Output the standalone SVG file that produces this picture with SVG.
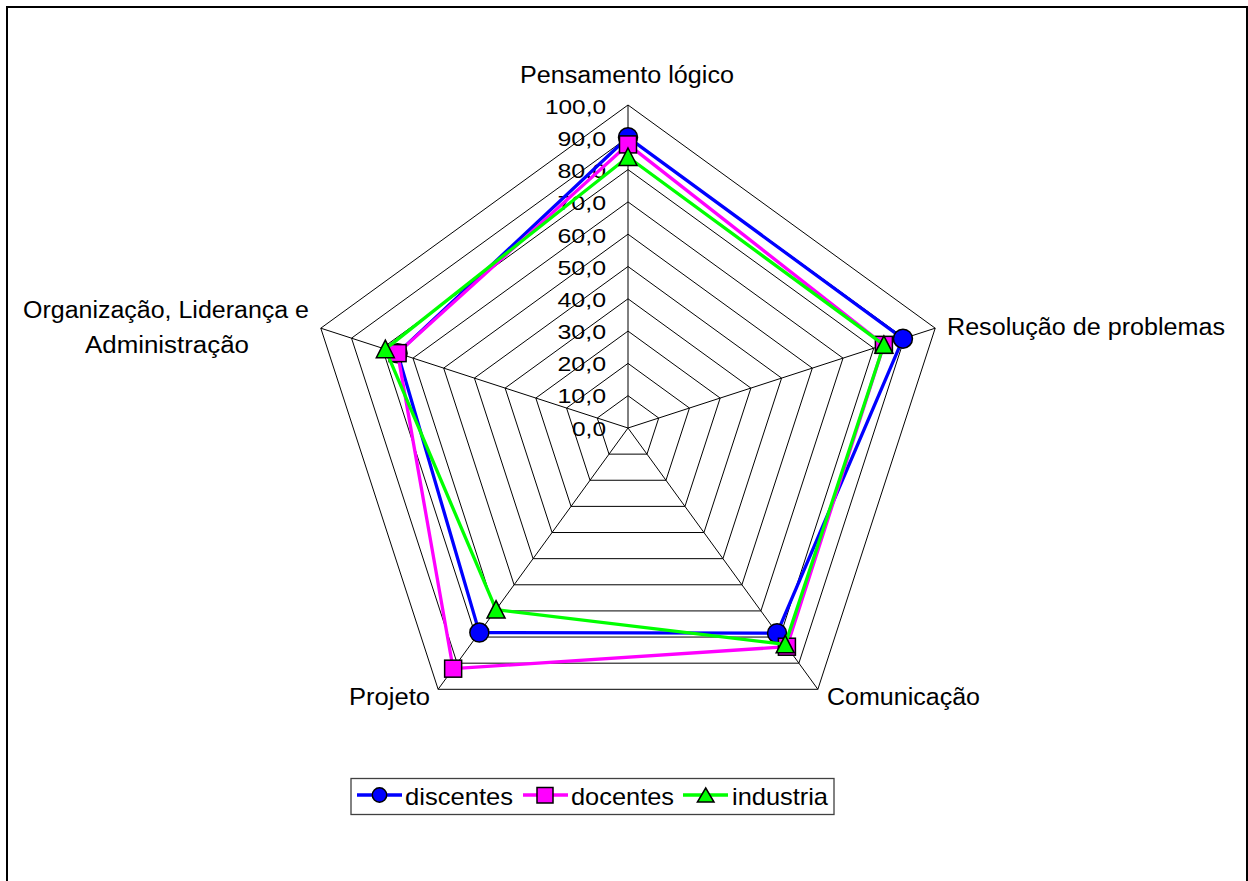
<svg xmlns="http://www.w3.org/2000/svg" width="1248" height="881" viewBox="0 0 1248 881">
  <style>
    text { font-family: "Liberation Sans", Arial, sans-serif; fill: #000; }
    .tick { font-size: 21px; text-anchor: end; }
    .cat { font-size: 23.5px; }
    .leg { font-size: 24px; }
    .grid { fill: none; stroke: #000; stroke-width: 1; }
    .spoke { stroke: #000; stroke-width: 1; }
    .s1 { fill: none; stroke: #0000FF; stroke-width: 3.3; stroke-linejoin: round; }
    .s2 { fill: none; stroke: #FF00FF; stroke-width: 3.3; stroke-linejoin: round; }
    .s3 { fill: none; stroke: #00FF00; stroke-width: 3.3; stroke-linejoin: round; }
    .m1 { fill: #0000FF; stroke: #000; stroke-width: 1.5; }
    .m2 { fill: #FF00FF; stroke: #000; stroke-width: 1.5; }
    .m3 { fill: #00FF00; stroke: #000; stroke-width: 1.5; }
  </style>
  <defs>
    <circle id="mk-circle" r="9.5"/>
    <rect id="mk-square" x="-8.5" y="-8.5" width="17" height="17"/>
    <polygon id="mk-tri" points="0,-9 9,8.5 -9,8.5"/>
  </defs>

  <rect x="0" y="0" width="1248" height="881" fill="#fff"/>
  <!-- chart frame (open at the bottom edge of the page) -->
  <rect x="7" y="7" width="1240" height="900" fill="none" stroke="#000" stroke-width="2"/>

  <!-- radar grid: rings at 10..100, centre (628,428), 3.23 px per unit -->
  <g id="grid">
    <polygon class="grid" points="628,395.7 658.72,418.02 646.99,454.13 609.01,454.13 597.28,418.02"/>
    <polygon class="grid" points="628,363.4 689.44,408.04 665.97,480.26 590.03,480.26 566.56,408.04"/>
    <polygon class="grid" points="628,331.1 720.16,398.06 684.96,506.39 571.04,506.39 535.84,398.06"/>
    <polygon class="grid" points="628,298.8 750.88,388.07 703.94,532.53 552.06,532.53 505.12,388.07"/>
    <polygon class="grid" points="628,266.5 781.6,378.09 722.93,558.66 533.07,558.66 474.4,378.09"/>
    <polygon class="grid" points="628,234.2 812.32,368.11 741.91,584.79 514.09,584.79 443.68,368.11"/>
    <polygon class="grid" points="628,201.9 843.03,358.13 760.9,610.92 495.1,610.92 412.97,358.13"/>
    <polygon class="grid" points="628,169.6 873.75,348.15 779.89,637.05 476.11,637.05 382.25,348.15"/>
    <polygon class="grid" points="628,137.3 904.47,338.17 798.87,663.18 457.13,663.18 351.53,338.17"/>
    <polygon class="grid" points="628,105 935.19,328.19 817.86,689.31 438.14,689.31 320.81,328.19"/>
    <line class="spoke" x1="628" y1="428" x2="628" y2="105"/>
    <line class="spoke" x1="628" y1="428" x2="935.19" y2="328.19"/>
    <line class="spoke" x1="628" y1="428" x2="817.86" y2="689.31"/>
    <line class="spoke" x1="628" y1="428" x2="438.14" y2="689.31"/>
    <line class="spoke" x1="628" y1="428" x2="320.81" y2="328.19"/>
  </g>

  <!-- value axis labels -->
  <g id="axis-labels">
    <text class="tick" x="606" y="435.5" textLength="34" lengthAdjust="spacingAndGlyphs">0,0</text>
    <text class="tick" x="606" y="403.3" textLength="48.5" lengthAdjust="spacingAndGlyphs">10,0</text>
    <text class="tick" x="606" y="371.2" textLength="48.5" lengthAdjust="spacingAndGlyphs">20,0</text>
    <text class="tick" x="606" y="339" textLength="48.5" lengthAdjust="spacingAndGlyphs">30,0</text>
    <text class="tick" x="606" y="306.9" textLength="48.5" lengthAdjust="spacingAndGlyphs">40,0</text>
    <text class="tick" x="606" y="274.7" textLength="48.5" lengthAdjust="spacingAndGlyphs">50,0</text>
    <text class="tick" x="606" y="242.6" textLength="48.5" lengthAdjust="spacingAndGlyphs">60,0</text>
    <text class="tick" x="606" y="210.4" textLength="48.5" lengthAdjust="spacingAndGlyphs">70,0</text>
    <text class="tick" x="606" y="178.3" textLength="48.5" lengthAdjust="spacingAndGlyphs">80,0</text>
    <text class="tick" x="606" y="146.1" textLength="48.5" lengthAdjust="spacingAndGlyphs">90,0</text>
    <text class="tick" x="606" y="114" textLength="61" lengthAdjust="spacingAndGlyphs">100,0</text>
  </g>

  <!-- category labels -->
  <g id="cat-pensamento"><text class="cat" x="627" y="83" text-anchor="middle" textLength="214" lengthAdjust="spacingAndGlyphs">Pensamento lógico</text></g>
  <g id="cat-resolucao"><text class="cat" x="947" y="335" textLength="278" lengthAdjust="spacingAndGlyphs">Resolução de problemas</text></g>
  <g id="cat-comunicacao"><text class="cat" x="827" y="705" textLength="153" lengthAdjust="spacingAndGlyphs">Comunicação</text></g>
  <g id="cat-projeto"><text class="cat" x="349" y="705" textLength="81" lengthAdjust="spacingAndGlyphs">Projeto</text></g>
  <g id="cat-organizacao">
    <text class="cat" x="23" y="318" textLength="286" lengthAdjust="spacingAndGlyphs">Organização, Liderança e</text>
    <text class="cat" x="85" y="353" textLength="164" lengthAdjust="spacingAndGlyphs">Administração</text>
  </g>

  <!-- data series -->
  <g id="series-discentes">
    <polygon class="s1" points="628,137.3 902.94,338.67 777.04,633.14 479.34,632.61 397.61,353.14"/>
    <use href="#mk-circle" class="m1" x="628" y="137.3"/>
    <use href="#mk-circle" class="m1" x="902.94" y="338.67"/>
    <use href="#mk-circle" class="m1" x="777.04" y="633.14"/>
    <use href="#mk-circle" class="m1" x="479.34" y="632.61"/>
    <use href="#mk-circle" class="m1" x="397.61" y="353.14"/>
  </g>
  <g id="series-docentes">
    <polygon class="s2" points="628,144.41 883.89,344.85 786.91,646.72 453.14,668.67 397.61,353.14"/>
    <use href="#mk-square" class="m2" x="628" y="144.41"/>
    <use href="#mk-square" class="m2" x="883.89" y="344.85"/>
    <use href="#mk-square" class="m2" x="786.91" y="646.72"/>
    <use href="#mk-square" class="m2" x="453.14" y="668.67"/>
    <use href="#mk-square" class="m2" x="397.61" y="353.14"/>
  </g>
  <g id="series-industria">
    <polygon class="s3" points="628,157 883.89,344.85 785.2,644.36 496.05,609.62 385.32,349.15"/>
    <use href="#mk-tri" class="m3" x="628" y="157"/>
    <use href="#mk-tri" class="m3" x="883.89" y="344.85"/>
    <use href="#mk-tri" class="m3" x="785.2" y="644.36"/>
    <use href="#mk-tri" class="m3" x="496.05" y="609.62"/>
    <use href="#mk-tri" class="m3" x="385.32" y="349.15"/>
  </g>

  <!-- legend -->
  <g id="legend">
    <rect x="351" y="778.5" width="483" height="36" fill="#fff" stroke="#404040" stroke-width="1.3"/>
    <line x1="357" y1="795" x2="402" y2="795" stroke="#0000FF" stroke-width="3.3"/>
    <circle cx="379.5" cy="795" r="7.2" class="m1"/>
    <text class="leg" x="405" y="805" textLength="108" lengthAdjust="spacingAndGlyphs">discentes</text>
    <line x1="523" y1="795" x2="568" y2="795" stroke="#FF00FF" stroke-width="3.3"/>
    <rect x="537" y="787.5" width="16" height="15.5" class="m2"/>
    <text class="leg" x="571" y="805" textLength="103" lengthAdjust="spacingAndGlyphs">docentes</text>
    <line x1="683" y1="795" x2="728" y2="795" stroke="#00FF00" stroke-width="3.3"/>
    <polygon points="705.7,788 714,802 697.4,802" class="m3"/>
    <text class="leg" x="732" y="805" textLength="96" lengthAdjust="spacingAndGlyphs">industria</text>
  </g>
</svg>
